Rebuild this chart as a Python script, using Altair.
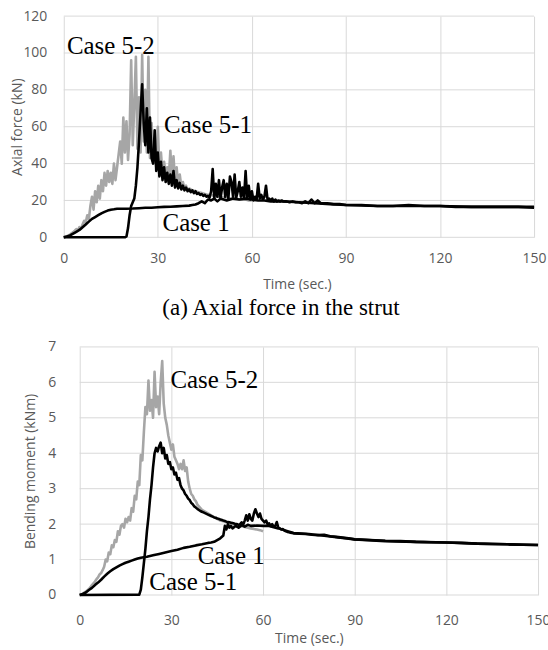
import altair as alt
import pandas as pd

# ---------------- (a) Axial force in the strut ----------------
ax52_t = [0,0.5,1,1.5,2,2.5,3,3.5,4,4.5,5,5.5,6,6.5,7,7.5,8,8.5,9,9.5,
          10,10.5,11,11.5,12,12.5,13,13.5,14,14.5,15,15.5,16,16.5,17,17.5,18,18.5,19,19.5,
          20,20.5,21,21.5,22,22.5,23,23.5,24,24.5,25,25.5,26,26.5,27,27.5,28,28.5,29,29.5,
          30,30.5,31,31.5,32,32.5,33,33.5,34,34.5,35,35.5,36,36.5,37,37.5,38,38.5,39,39.5,40,
          41,42,43,44,45,46,47,48,49,50,51,52,53,54,55,56,57,58,59,60]
ax52_v = [0,0.3,0.6,1.0,1.5,2.2,2.8,3.6,4.5,3.8,5.5,4.8,7,9,8,12,10,17,22,15,
          25,19,28,21,31,25,35,28,36,30,35,29,40,31,38,45,52,40,65,46,
          63,42,56,96,50,72,98,48,76,46,99,52,80,46,98,43,62,41,52,38,
          60,36,46,34,41,33,38,32,47,31,44,30,38,28.5,34,27.5,30,26.5,28,25.5,26.5,
          25.5,25,24.5,24,23.5,23,23,22.5,22,22,21.5,21.5,21,21,21,20.5,20.5,20.5,20,20]

ax51_t = [0,19.5,
          20,20.5,21,21.5,22,22.5,23,23.5,24,24.5,25,25.5,26,26.5,27,27.5,28,28.5,29,29.5,
          30,30.5,31,31.5,32,32.5,33,33.5,34,34.5,35,35.5,36,36.5,37,37.5,38,38.5,39,39.5,
          40,40.5,41,41.5,42,42.5,43,43.5,44,44.5,45,45.5,46,46.5,47,47.5,48,48.5,49,49.5,
          50,50.5,51,51.5,52,52.5,53,53.5,54,54.5,55,55.5,56,56.5,57,57.5,58,58.5,59,59.5,
          60,60.5,61,61.5,62,62.5,63,63.5,64,64.5,65,65.5,66,66.5,67,67.5,68,68.5,69,69.5,70,
          71,72,73,74,75,76,77,78,79,80,81,82,84,86,88,90,95,100,105,110,115,120,125,130,135,140,145,150]
ax51_v = [0,0,
          0.5,5,12,17,19,21,28,38,52,68,83,62,50,70,46,65,43,40,58,36,
          46,33,41,31,38,30,35,29,34,28,36,27,31,26.5,29.5,26,28,25.5,27,25,
          26,24.5,25.5,24,25,23.5,24,23,23.5,22.5,23,22,22.5,21.5,25,37,21,29,22,31,
          21,27,31,22,29,21,33,30,22,34,21.5,25,30,22,27,21,36,21,28,20.5,
          25,20,22,20.5,29,21,23,20.5,22,28,20.5,21,20,21,19.5,20.5,19.5,20,19.5,20,19.5,
          19.5,19,19.5,19,19,18.5,19.5,18.5,20.5,18.5,20,18.5,18.5,18,18,17.5,17.5,17,17,17.5,17,17,16.5,16.5,16.5,16.5,16.5,16]

ax1_t = [0,1,2,3,4,5,6,7,8,9,10,11,12,13,14,15,16,17,18,19,20,22,24,26,28,30,32,34,36,38,40,
         41,42,43,44,45,46,47,48,49,50,52,54,56,58,60,62,64,66,68,70,75,80,85,90,100,110,120,130,140,150]
ax1_v = [0,0.5,1,2,3,4,5.5,7,8.5,10,11,12,13,13.8,14.5,15,15.2,15.5,15.5,15.5,15.5,15.6,15.8,16,16,16.3,16.5,16.6,16.8,17,17.2,
         17.5,17.8,18.5,19.5,18.5,20.5,20,21,19.5,21,20,21,20.5,21,20.5,20,20,19.5,19.5,19.5,19,18.5,18,17.5,17,17,17,16.5,16.5,16.5]

ax_lab_text = ["Case 5-2", "Case 5-1", "Case 1"]
ax_lab_t = [1, 32, 31.5]
ax_lab_v = [99.5, 56.8, 3.2]

# ---------------- (b) Bending moment ----------------
bm52_t = ax52_t
bm52_v = [0,0.02,0.04,0.07,0.1,0.13,0.17,0.22,0.28,0.33,0.38,0.45,0.5,0.58,0.62,0.7,0.8,1.0,0.95,1.2,
          1.15,1.4,1.35,1.55,1.5,1.8,1.7,1.95,2.0,1.9,2.15,2.05,2.2,2.1,2.45,2.35,2.8,2.7,3.2,3.1,
          3.95,3.8,4.6,5.3,5.1,6.05,5.2,5.5,5.0,6.3,5.3,5.6,5.1,6.0,6.6,5.4,5.0,4.8,4.5,4.3,
          4.1,4.25,3.9,3.8,3.7,3.55,3.7,3.55,3.8,3.5,3.6,3.2,3.0,2.85,2.8,2.7,2.65,2.55,2.5,2.45,2.4,
          2.35,2.3,2.25,2.2,2.15,2.1,2.08,2.05,2.02,2.0,1.98,1.96,1.94,1.92,1.9,1.88,1.86,1.85,1.83,1.8]

bm51_t = [0,19.5,
          20,20.5,21,21.5,22,22.5,23,23.5,24,24.5,25,25.5,26,26.5,27,27.5,28,28.5,29,29.5,
          30,30.5,31,31.5,32,32.5,33,33.5,34,34.5,35,35.5,36,36.5,37,37.5,38,38.5,39,39.5,
          40,40.5,41,41.5,42,42.5,43,43.5,44,44.5,45,45.5,46,46.5,47,47.5,48,48.5,49,49.5,
          50,50.5,51,51.5,52,52.5,53,53.5,54,54.5,55,55.5,56,56.5,57,57.5,58,58.5,59,59.5,
          60,60.5,61,61.5,62,62.5,63,63.5,64,64.5,65,65.5,66,66.5,67,67.5,68,68.5,69,69.5,70,
          72,74,76,78,80,82,84,86,88,90,95,100,105,110,115,120,125,130,135,140,145,150]
bm51_v = [0,0.01,
          0.15,0.5,0.9,1.3,1.8,2.2,2.7,3.1,3.6,4.0,4.15,4.05,4.2,4.3,4.0,4.15,3.85,3.95,3.7,3.75,
          3.55,3.6,3.4,3.45,3.25,3.3,3.1,3.0,2.95,2.85,2.8,2.72,2.68,2.6,2.56,2.5,2.47,2.43,2.4,2.37,
          2.35,2.33,2.31,2.29,2.27,2.25,2.23,2.21,2.19,2.18,2.16,2.15,2.13,2.12,2.1,2.09,2.07,2.06,2.05,2.04,
          2.03,2.02,2.0,2.0,1.98,2.0,2.05,1.98,2.1,2.25,2.1,2.28,2.15,2.1,2.3,2.42,2.3,2.2,2.3,2.15,
          2.1,2.05,2.1,2.0,2.02,1.95,2.0,1.93,1.95,2.06,1.9,1.88,1.85,1.86,1.82,1.8,1.78,1.77,1.76,1.75,1.74,
          1.73,1.72,1.7,1.69,1.7,1.66,1.64,1.62,1.6,1.57,1.55,1.53,1.52,1.5,1.49,1.48,1.47,1.45,1.44,1.43,1.42,1.41]

bm1_t = [0,1,2,3,4,5,6,7,8,9,10,11,12,13,14,15,16,17,18,19,20,22,24,26,28,30,32,34,36,38,40,42,43,44,45,46,47,
         47.5,48,48.5,49,49.5,50,51,52,53,54,55,56,58,60,62,65,70,75,80,90,100,110,120,130,140,150]
bm1_v = [0,0.03,0.07,0.14,0.2,0.28,0.35,0.43,0.52,0.6,0.67,0.73,0.78,0.83,0.87,0.91,0.94,0.97,1.0,1.03,1.05,
         1.08,1.12,1.16,1.2,1.24,1.28,1.33,1.36,1.4,1.43,1.47,1.48,1.5,1.55,1.6,1.68,
         1.95,1.85,2.0,1.9,1.95,1.88,1.95,1.9,1.97,1.93,1.98,1.95,1.96,1.95,1.95,1.88,1.75,1.72,1.67,1.57,1.52,1.5,1.48,1.45,1.43,1.41]

bm_lab_text = ["Case 5-2", "Case 1", "Case 5-1"]
bm_lab_t = [29.7, 38.6, 22.8]
bm_lab_v = [5.84, 0.87, 0.15]

x_ticks = [0, 30, 60, 90, 120, 150]
ax_y_ticks = [0, 20, 40, 60, 80, 100, 120]
bm_y_ticks = [0, 1, 2, 3, 4, 5, 6, 7]

caption_a = "(a) Axial force in the strut"

GRAY_TXT = "#595959"
GRID = "#d9d9d9"
SANS = "Open Sans"
SERIF = "Liberation Serif"
ORIGIN_X = 80  # both panels' group origin (page x)


def axis_common(**kw):
    return alt.Axis(domain=False, ticks=False, gridColor=GRID, gridWidth=1,
                    labelColor=GRAY_TXT, labelFont=SANS, labelFontSize=14, labelFlush=False,
                    titleColor=GRAY_TXT, titleFont=SANS, titleFontSize=14, titleFontWeight="normal",
                    **kw)


def panel(series, labels, ymax, yticks, ytitle, plot_left, plot_right, top, h,
          ylab_right, ytitle_cx, xlabpad, xtitle_cx, xtitley, bottom_extent, caption=None):
    w = plot_right - ORIGIN_X
    x0 = plot_left - ORIGIN_X
    xenc = alt.X("t:Q", scale=alt.Scale(domain=[0, 150], range=[x0, w], nice=False, zero=False),
                 axis=axis_common(values=x_ticks, grid=True, title="Time (sec.)", labelPadding=xlabpad,
                                  titleX=xtitle_cx - ORIGIN_X, titleY=xtitley, titleBaseline="middle",
                                  titleAlign="center"))
    yenc = alt.Y("v:Q", scale=alt.Scale(domain=[0, ymax], nice=False),
                 axis=axis_common(values=yticks, grid=False, title=ytitle,
                                  labelPadding=ORIGIN_X - ylab_right,
                                  titleX=ytitle_cx - ORIGIN_X, titleY=h / 2, titleBaseline="middle",
                                  titleAlign="center", titleAngle=270))
    layers = []
    # horizontal gridlines across the full plot width
    gdf = pd.DataFrame({"v": yticks})
    layers.append(alt.Chart(gdf).mark_rule(color=GRID, strokeWidth=1)
                  .encode(y=yenc, x=alt.value(x0), x2=alt.value(w)))
    for t, v, color in series:
        df = pd.DataFrame({"t": t, "v": v})
        layers.append(alt.Chart(df).mark_line(color=color, strokeWidth=2.6, strokeJoin="round")
                      .encode(x=xenc, y=yenc))
    txt, tt, vv = labels
    ldf = pd.DataFrame({"t": tt, "v": vv, "label": txt})
    layers.append(alt.Chart(ldf).mark_text(font=SERIF, fontSize=25, align="left",
                                           baseline="alphabetic", color="black")
                  .encode(x=xenc, y=yenc, text="label:N"))
    # invisible frame rule fixing the panel's outer bounds
    fdf = pd.DataFrame({"k": [0]})
    layers.append(alt.Chart(fdf).mark_rule(opacity=0, strokeOpacity=0)
                  .encode(x=alt.value(-ORIGIN_X), y=alt.value(-top), y2=alt.value(bottom_extent)))
    if caption is not None:
        cdf = pd.DataFrame({"c": [caption]})
        layers.append(alt.Chart(cdf).mark_text(font=SERIF, fontSize=23, align="center",
                                               baseline="middle", color="black")
                      .encode(x=alt.value(282 - ORIGIN_X), y=alt.value(308 - top), text="c:N"))
    return alt.layer(*layers).properties(width=w, height=h)


top_chart = panel(
    [(ax52_t, ax52_v, "#a6a6a6"), (ax1_t, ax1_v, "black"), (ax51_t, ax51_v, "black")],
    (ax_lab_text, ax_lab_t, ax_lab_v), 120, ax_y_ticks, "Axial force (kN)",
    64, 536, 15, 222, 47, 18, 14, 298, 47, 327 - 15, caption=caption_a)

bottom_chart = panel(
    [(bm52_t, bm52_v, "#a6a6a6"), (bm1_t, bm1_v, "black"), (bm51_t, bm51_v, "black")],
    (bm_lab_text, bm_lab_t, bm_lab_v), 7, bm_y_ticks, "Bending moment (kNm)",
    80, 540, 20, 249, 56, 31, 19, 310, 44, 0)

chart = alt.vconcat(top_chart, bottom_chart, spacing=0).properties(
    padding={"left": 0, "top": 0, "right": -3, "bottom": 0}
).configure_view(stroke=None)

chart.save("out.html", embed_options={"renderer": "svg", "actions": False})
